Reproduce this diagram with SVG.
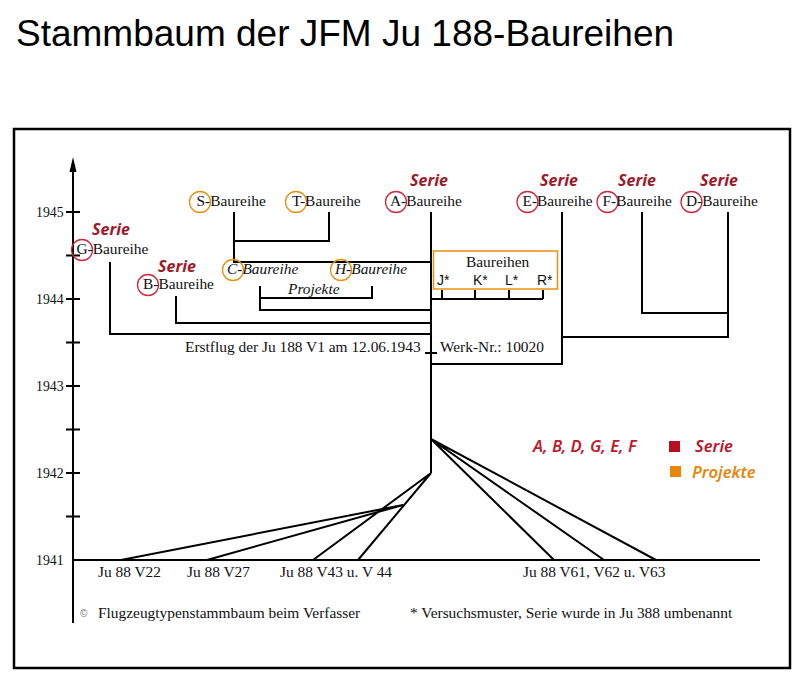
<svg xmlns="http://www.w3.org/2000/svg" width="810" height="697" viewBox="0 0 810 697">
<style>
.t{font-family:"Liberation Serif",serif;font-size:15.4px;fill:#111}
.ti{font-style:italic}
.ax{font-family:"Liberation Serif",serif;font-size:13.8px;fill:#111}
.sans{font-family:"Liberation Sans",Arial,sans-serif;font-size:14px;fill:#111}
.serie{font-family:"Noto Sans",sans-serif;font-style:italic;font-weight:700;font-size:16px;fill:#9e1a2b}
.lg{font-family:"Noto Sans",sans-serif;font-style:italic;font-weight:600;font-size:16.6px}
.ln{stroke:#000;stroke-width:2;fill:none}
.cr{fill:none;stroke:#d0283a;stroke-width:1.3}
.co{fill:none;stroke:#e8900f;stroke-width:1.3}
</style>
<rect width="810" height="697" fill="#fff"/>
<text x="16" y="46" font-family="Liberation Sans,Arial,sans-serif" font-size="37" fill="#000">Stammbaum der JFM Ju 188-Baureihen</text>
<rect x="14" y="129" width="776" height="539" fill="none" stroke="#000" stroke-width="2.5"/>

<g id="axis">
<path class="ln" d="M73 166V623M73 560H760"/>
<polygon points="73,157 69.5,172 76.5,172" fill="#000"/>
<path class="ln" d="M66 212H80M66 255.5H80M66 299H80M66 342.5H80M66 386H80M66 429.5H80M66 473H80M66 516.5H80"/>
<text class="ax" x="36" y="217">1945</text>
<text class="ax" x="36" y="304">1944</text>
<text class="ax" x="36" y="391">1943</text>
<text class="ax" x="36" y="478">1942</text>
<text class="ax" x="36" y="565">1941</text>
</g>

<g id="connectors">
<path class="ln" d="M234 212V262H431"/>
<path class="ln" d="M329 212V241H234"/>
<path class="ln" d="M260 286V310H431"/>
<path class="ln" d="M372 286V298H260"/>
<path class="ln" d="M176 296V323H431"/>
<path class="ln" d="M110 262V334H431"/>
<path class="ln" d="M431 212V473"/>
<path class="ln" stroke-width="1.6" d="M431 364H562V212"/>
<path class="ln" d="M562 337H728V212"/>
<path class="ln" d="M642 212V313H728"/>
<path class="ln" stroke-width="1.6" d="M431 299H543M442 290V299M475 290V299M509 290V299M543 290V299"/>
<path class="ln" stroke-width="1.5" d="M425 353H437"/>
<path class="ln" d="M431 473L313 560M431 473L358 560M121 560L403 505M207 560L403 505"/>
<path class="ln" d="M431 439L554 560M431 439L604 560M431 439L656 560"/>
</g>

<g id="node-S"><circle class="co" cx="200" cy="202" r="10.5"/><text class="t" x="196.5" y="206">S-Baureihe</text></g>
<g id="node-T"><circle class="co" cx="296" cy="202" r="10.5"/><text class="t" x="292" y="206">T-Baureihe</text></g>
<g id="node-A"><text class="serie" x="410" y="186">Serie</text><circle class="cr" cx="396" cy="202" r="10.5"/><text class="t" x="390" y="206">A-Baureihe</text></g>
<g id="node-E"><text class="serie" x="540" y="186">Serie</text><circle class="cr" cx="527.5" cy="202" r="10.5"/><text class="t" x="522.5" y="206">E-Baureihe</text></g>
<g id="node-F"><text class="serie" x="618" y="186">Serie</text><circle class="cr" cx="607.5" cy="202" r="10.5"/><text class="t" x="602.5" y="206">F-Baureihe</text></g>
<g id="node-D"><text class="serie" x="700" y="186">Serie</text><circle class="cr" cx="691.5" cy="202" r="10.5"/><text class="t" x="686" y="206">D-Baureihe</text></g>
<g id="node-G"><text class="serie" x="92" y="235">Serie</text><circle class="cr" cx="82" cy="250" r="10.5"/><text class="t" x="76.5" y="254">G-Baureihe</text></g>
<g id="node-B"><text class="serie" x="158" y="271.5">Serie</text><circle class="cr" cx="148" cy="285" r="10.5"/><text class="t" x="143" y="289">B-Baureihe</text></g>
<g id="node-C"><circle class="co" cx="233" cy="270" r="10.5"/><text class="t ti" x="227" y="274">C-Baureihe</text></g>
<g id="node-H"><circle class="co" cx="341" cy="270" r="10.5"/><text class="t ti" x="335" y="274">H-Baureihe</text></g>
<g id="node-Projekte"><text class="t ti" x="288" y="294">Projekte</text></g>
<g id="node-Baureihen">
<rect x="433.5" y="251" width="124" height="38" fill="none" stroke="#e8900f" stroke-width="1.5"/>
<text class="t" x="466" y="267">Baureihen</text>
<text class="sans" x="437" y="285">J*</text>
<text class="sans" x="473" y="285">K*</text>
<text class="sans" x="505" y="285">L*</text>
<text class="sans" x="537" y="285">R*</text>
</g>
<g id="node-Erstflug"><text class="t" x="185" y="352">Erstflug der Ju 188 V1 am 12.06.1943</text><text class="t" x="440" y="352">Werk-Nr.: 10020</text></g>
<g id="node-V22"><text class="t" x="98" y="577">Ju 88 V22</text></g>
<g id="node-V27"><text class="t" x="187" y="577">Ju 88 V27</text></g>
<g id="node-V43"><text class="t" x="280" y="577">Ju 88 V43 u. V 44</text></g>
<g id="node-V61"><text class="t" x="523" y="577">Ju 88 V61, V62 u. V63</text></g>

<g id="legend">
<text class="lg" x="533" y="452" fill="#c01a2c">A, B, D, G, E, F</text>
<rect x="669" y="441" width="11" height="11" fill="#b80f20"/>
<text class="lg" x="695" y="452" fill="#b8142a">Serie</text>
<rect x="670" y="466" width="11" height="11" fill="#e8860c"/>
<text class="lg" x="692" y="478" fill="#e8860c">Projekte</text>
</g>

<g id="footnotes">
<text x="80" y="617" font-family="Liberation Sans,sans-serif" font-size="10" fill="#777">©</text>
<text class="t" x="98" y="618">Flugzeugtypenstammbaum beim Verfasser</text>
<text class="t" x="410" y="618">* Versuchsmuster, Serie wurde in Ju 388 umbenannt</text>
</g>
</svg>
